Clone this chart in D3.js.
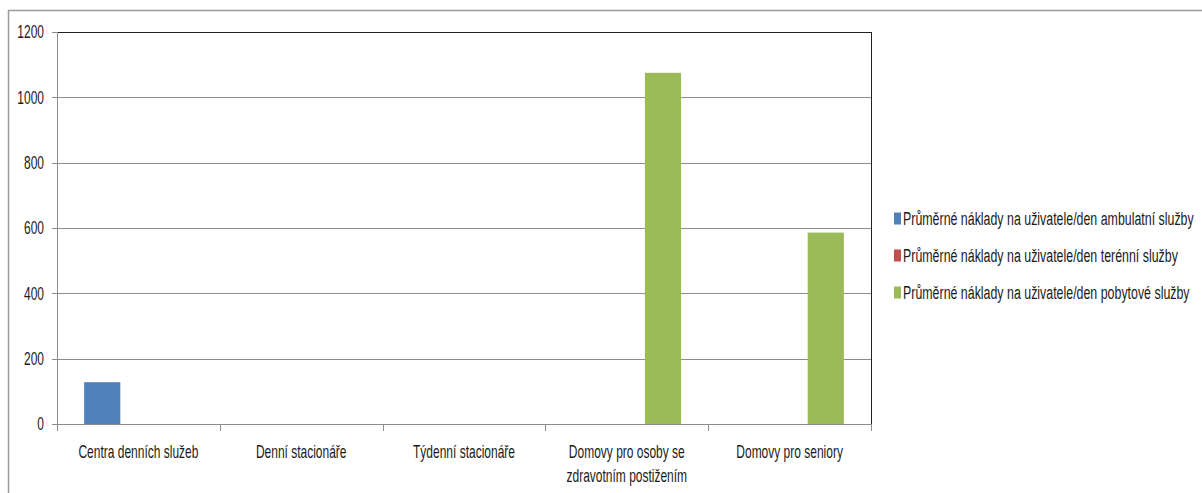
<!DOCTYPE html>
<html><head><meta charset="utf-8">
<script src="https://cdn.jsdelivr.net/npm/d3@7"></script>
<style>
html,body{margin:0;padding:0;background:#fff;}
text{font-family:"Liberation Sans Narrow","Liberation Sans",sans-serif;fill:#1a1a1a;}
</style></head>
<body><svg id="c" width="1202" height="493"></svg>
<script>
const categories = ["Centra denních služeb","Denní stacionáře","Týdenní stacionáře","Domovy pro osoby se zdravotním postižením","Domovy pro seniory"];
const categoryLines = [["Centra denních služeb"],["Denní stacionáře"],["Týdenní stacionáře"],["Domovy pro osoby se","zdravotním postižením"],["Domovy pro seniory"]];
const seriesNames = ["Průměrné náklady na uživatele/den ambulatní služby","Průměrné náklady na uživatele/den terénní služby","Průměrné náklady na uživatele/den pobytové služby"];
const ambulatni = [128, null, null, null, null];
const terenni = [null, null, null, null, null];
const pobytove = [null, null, null, 1075, 586];
const yTicks = [0,200,400,600,800,1000,1200];
const colors = ["#4F81BD","#C0504D","#9BBB59"];

const series = [ambulatni, terenni, pobytove];
const svg = d3.select("#c");
const SY = 1.5, FS = 12;
const L = 57, R = 871, T = 32, B = 424;

function label(g, x, y, txt, anchor, fs){
  const t = g.append("g").attr("transform",`translate(${x},${y}) scale(1,${SY})`);
  t.append("text").attr("text-anchor",anchor).attr("dy","0.35em").attr("font-size",fs||FS).text(txt);
  return t;
}

svg.append("rect").attr("width",1202).attr("height",493).attr("fill","#fff");
// outer chart border
svg.append("rect").attr("x",8.5).attr("y",10.5).attr("width",1210).attr("height",500)
  .attr("fill","none").attr("stroke","#9a9a9a").attr("stroke-width",1.5);

const x0 = d3.scaleBand().domain(categories).range([L,R]).padding(0);
const bw = x0.bandwidth();
const gap = bw/(3+1.5)*0.75;
const x1 = d3.scaleBand().domain(d3.range(3)).range([gap, bw-gap]).padding(0);
const y = d3.scaleLinear().domain([0,1200]).range([B,T]);

// gridlines
svg.append("g").selectAll("line").data(yTicks.filter(v=>v>0 && v<1200)).join("line")
  .attr("x1",L).attr("x2",R).attr("y1",d=>Math.round(y(d))+0.5).attr("y2",d=>Math.round(y(d))+0.5)
  .attr("stroke","#8c8c8c").attr("stroke-width",1);

// plot border top/right
svg.append("line").attr("x1",L).attr("x2",R+0.5).attr("y1",T+0.5).attr("y2",T+0.5).attr("stroke","#222");
svg.append("line").attr("x1",R+0.5).attr("x2",R+0.5).attr("y1",T).attr("y2",B).attr("stroke","#222");

// bars
const rows = [];
series.forEach((s,si)=>s.forEach((v,ci)=>{ if(v!=null) rows.push({si,ci,v}); }));
svg.append("g").selectAll("rect").data(rows).join("rect")
  .attr("x",d=>x0(categories[d.ci])+x1(d.si))
  .attr("width",x1.bandwidth())
  .attr("y",d=>y(d.v)).attr("height",d=>B-y(d.v))
  .attr("fill",d=>colors[d.si]);

// y axis
const ya = svg.append("g");
ya.append("line").attr("x1",L+0.5).attr("x2",L+0.5).attr("y1",T).attr("y2",B+7).attr("stroke","#8c8c8c");
ya.selectAll("line.t").data(yTicks).join("line").attr("class","t")
  .attr("x1",L-5).attr("x2",L).attr("y1",d=>Math.round(y(d))+0.5).attr("y2",d=>Math.round(y(d))+0.5).attr("stroke","#8c8c8c");
yTicks.forEach(v=>label(ya, 44, y(v), String(v), "end"));

// x axis
const xa = svg.append("g");
xa.append("line").attr("x1",L).attr("x2",R+1).attr("y1",B+0.5).attr("y2",B+0.5).attr("stroke","#8c8c8c");
const bounds = categories.map(c=>x0(c)).concat([R]);
xa.selectAll("line.t").data(bounds).join("line").attr("class","t")
  .attr("x1",d=>Math.round(d)+0.5).attr("x2",d=>Math.round(d)+0.5).attr("y1",B).attr("y2",B+7).attr("stroke","#8c8c8c");
categories.forEach((c,i)=>{
  categoryLines[i].forEach((ln,j)=>label(xa, x0(c)+bw/2, 452+j*24, ln, "middle"));
});

// legend
const lg = svg.append("g");
seriesNames.forEach((n,i)=>{
  const cy = 218 + i*37;
  lg.append("rect").attr("x",894).attr("y",cy-5.5).attr("width",7).attr("height",12).attr("fill",colors[i]);
  label(lg, 903, cy, n, "start", 12.4);
});
</script></body></html>
